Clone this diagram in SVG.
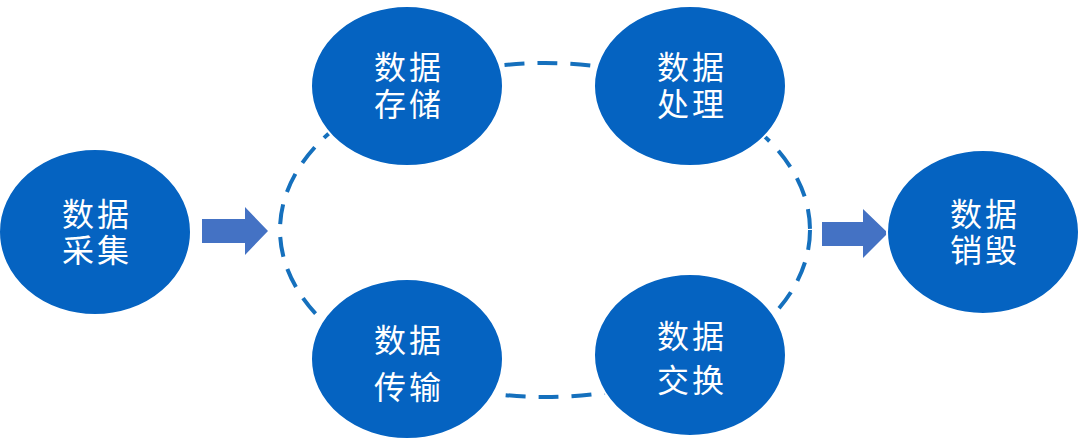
<svg xmlns="http://www.w3.org/2000/svg" width="1080" height="444" viewBox="0 0 1080 444">
<style>
.node{fill:#0563C1;stroke:#ffffff;stroke-width:2}
.lbl{fill:#ffffff;font-family:"Noto Sans CJK SC","Noto Sans",sans-serif;font-size:32px;text-anchor:middle;letter-spacing:3px}
.arrow{fill:#4472C4}
.cycle{fill:none;stroke:#1570BD;stroke-width:4;stroke-dasharray:20 13}
</style>
<rect width="1080" height="444" fill="#ffffff"/>
<g id="connectors">
<ellipse class="cycle" cx="545" cy="230" rx="265" ry="167"/>
<polygon class="arrow" points="202,219 245,219 245,207 268,231 245,255 245,243 202,243"/>
<polygon class="arrow" points="822,222 863,222 863,209 888,233 863,258 863,246 822,246"/>
</g>
<g id="n-collect">
<ellipse class="node" cx="95" cy="232" rx="96" ry="83"/>
<text class="lbl" x="97" y="226">数据</text>
<text class="lbl" x="97" y="262">采集</text>
</g>
<g id="n-store">
<ellipse class="node" cx="407" cy="86" rx="96" ry="80"/>
<text class="lbl" x="409" y="79">数据</text>
<text class="lbl" x="409" y="116">存储</text>
</g>
<g id="n-process">
<ellipse class="node" cx="690" cy="86" rx="96" ry="80"/>
<text class="lbl" x="692" y="79">数据</text>
<text class="lbl" x="692" y="116">处理</text>
</g>
<g id="n-transfer">
<ellipse class="node" cx="407" cy="359" rx="96" ry="80"/>
<text class="lbl" x="409" y="352">数据</text>
<text class="lbl" x="409" y="399">传输</text>
</g>
<g id="n-exchange">
<ellipse class="node" cx="690" cy="355" rx="96" ry="81"/>
<text class="lbl" x="692" y="348">数据</text>
<text class="lbl" x="692" y="392">交换</text>
</g>
<g id="n-destroy">
<ellipse class="node" cx="983" cy="232" rx="96" ry="82"/>
<text class="lbl" x="985" y="226">数据</text>
<text class="lbl" x="985" y="262">销毁</text>
</g>
</svg>
